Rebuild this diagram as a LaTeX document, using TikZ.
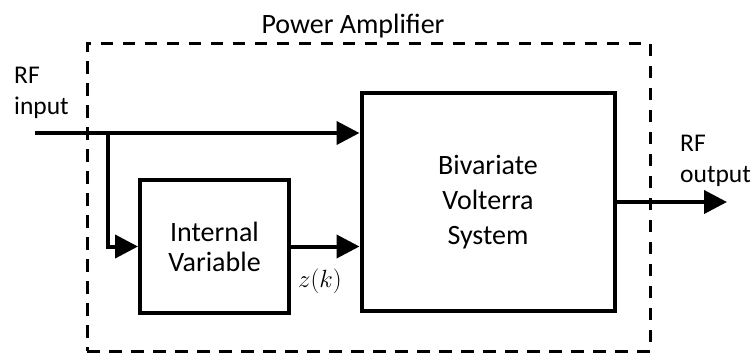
\documentclass[tikz,border=0pt]{standalone}
\usepackage{fontspec}
\setmainfont{Carlito}
\usetikzlibrary{arrows.meta}
\begin{document}
\begin{tikzpicture}[x=1pt,y=-1pt,
  every node/.style={font=\fontsize{28}{30}\selectfont},
  lbl/.style={anchor=base west, align=left, inner sep=0pt, font=\fontsize{25.5}{30.5}\selectfont},
  blk/.style={draw, line width=4pt, inner sep=0pt, align=center},
  arr/.style={line width=4pt, -{Triangle[length=23pt,width=23pt]}},
  dbox/.style={draw, line width=3pt, dash pattern=on 12.5pt off 9.5pt, inner sep=0pt}]
\useasboundingbox (0,0) rectangle (753,354);
% dashed enclosure
\node[dbox, minimum width=563pt, minimum height=308pt] (pa) at (368.5,197) {};
\node[anchor=base] (pal) at (353,33) {Power Amplifier};
% blocks
\node[blk, minimum width=149pt, minimum height=133pt] (iv) at (214.5,246.5)
  {Internal\\Variable};
\node[blk, minimum width=253pt, minimum height=218pt,
  font=\fontsize{28}{34.7}\selectfont] (bvs) at (488,202)
  {Bivariate\\Volterra\\System};
% labels (base = last line)
\node[lbl] (rfin) at (14,114) {RF\\input};
\node[lbl] (rfout) at (680,182) {RF\\output};
\node[font=\fontsize{30}{30}\selectfont] (zk) at (320,281) {$z(k)$};
% coordinates
\coordinate (in) at (35,133);
\coordinate (br) at (108,133);
\coordinate (out) at (727,202);
% connectors
\draw[arr] (in) -- (in -| bvs.west);
\draw[arr, line join=miter] (br) |- (iv.west);
\draw[arr] (iv.east) -- (iv.east -| bvs.west);
\draw[arr] (bvs.east) -- (out);
\end{tikzpicture}
\end{document}
